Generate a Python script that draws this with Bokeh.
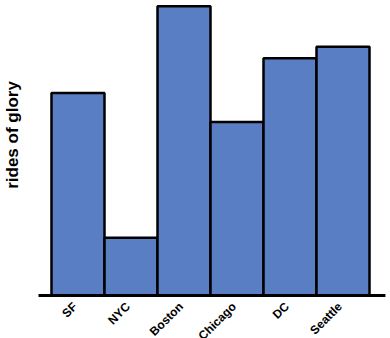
import math
from bokeh.plotting import figure
from bokeh.models import ColumnDataSource, Range1d
from bokeh.core.properties import value
from bokeh.embed import file_html
from bokeh.resources import INLINE

cities = ["SF", "NYC", "Boston", "Chicago", "DC", "Seattle"]
rides = [70, 20, 100, 60, 82, 86]
y_title = "rides of glory"

centers = [i + 0.5 for i in range(len(cities))]
src = ColumnDataSource(dict(x=centers, top=rides, city=cities, base=[0] * len(cities)))

# frame covers the whole canvas: 53 px per category, ~2.892 px per unit
p = figure(width=390, height=338, output_backend="svg", toolbar_location=None,
           x_range=Range1d(-0.962, 6.396), y_range=Range1d(-14.87, 102.0),
           min_border=0)
p.axis.visible = False
p.grid.visible = False
p.outline_line_color = None
p.background_fill_color = "white"
p.border_fill_color = "white"

p.vbar(x="x", top="top", bottom=0, width=1, source=src,
       fill_color="#5a7ec3", line_color="black", line_width=2.5)

# baseline (x axis line)
p.segment(x0=[-0.245], y0=[0], x1=[6.30], y1=[0], line_color="black", line_width=3)

# category labels
p.text(x="x", y="base", text="city", source=src,
       angle=math.pi / 4, text_align="right", text_baseline="middle",
       x_offset=-3, y_offset=9,
       text_font=value("Liberation Sans"), text_font_style="bold",
       text_font_size="12px", text_color="black")

# y axis title
p.text(x=[-0.74], y=[55.5], text=[y_title], angle=math.pi / 2,
       text_align="center", text_baseline="middle",
       text_font=value("Liberation Sans"), text_font_style="bold",
       text_font_size="17px", text_color="black")

open("out.html", "w").write(file_html(p, INLINE))
